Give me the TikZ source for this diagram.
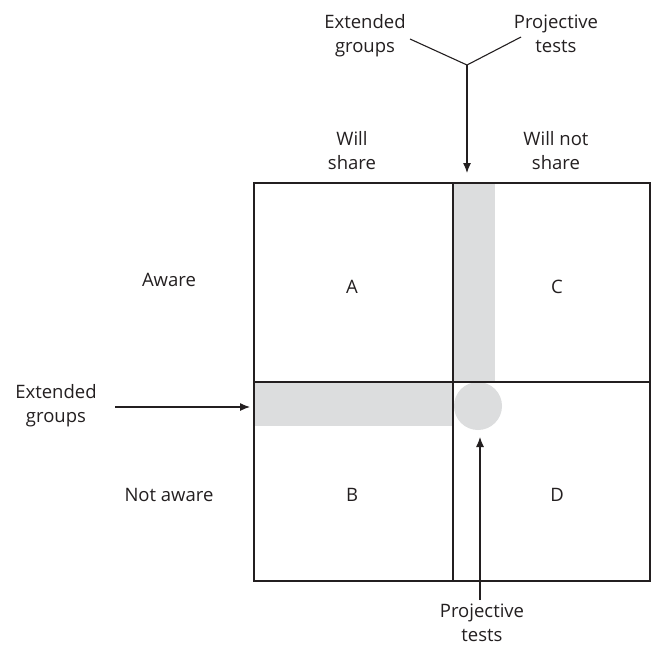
\documentclass[tikz,border=0pt]{standalone}
\usepackage{fontspec}
\setmainfont{Open Sans}
\usetikzlibrary{arrows.meta}
\definecolor{stripgray}{HTML}{DCDDDE}
\definecolor{ink}{HTML}{231F20}

\begin{document}
\begin{tikzpicture}[
    x=1pt, y=-1pt,
    label/.style = {align=center, text=ink, inner sep=0pt,
                    font=\fontsize{18.5}{24}\selectfont},
    strip/.style = {fill=stripgray, draw=none, inner sep=0pt, outer sep=0pt},
    grid/.style = {draw=ink, line width=1.4pt},
    link/.style = {draw=ink, line width=1.1pt},
    arrow/.style = {-{Latex[length=10pt, width=8pt]}, draw=ink, fill=ink, line width=1.1pt}
]
\useasboundingbox (0,0) rectangle (652,649);

\node[strip, minimum width=42pt, minimum height=199pt, anchor=north west] (vbar) at (453,183) {};
\node[strip, minimum width=199pt, minimum height=44pt, anchor=north west] (hbar) at (254,382) {};
\node[strip, circle, minimum size=48pt] (blob) at (478,406) {};

\draw[grid] (254,183) rectangle (650,581);
\draw[grid] (453,183) -- (453,581);
\draw[grid] (254,382) -- (650,382);

\node[label] (share) at (352,151) {Will\\share};
\node[label] (noshare) at (556,151) {Will not\\share};
\node[label] (aware) at (169,280) {Aware};
\node[label] (notaware) at (169,495) {Not aware};
\node[label] (cella) at (352,287) {A};
\node[label] (cellc) at (557,287) {C};
\node[label] (cellb) at (352,495) {B};
\node[label] (celld) at (557,495) {D};

\node[label] (egtop) at (365,36) {Extended\\groups};
\node[label] (pttop) at (556,34) {Projective\\tests};
\node[label] (egleft) at (56,406) {Extended\\groups};
\node[label] (ptbot) at (482,623) {Projective\\tests};

\coordinate (fork) at (467,65);
\coordinate (vleft) at (410,39);
\coordinate (vright) at (521,37);
\coordinate (egarrow) at (115,407);
\coordinate (ptarrow) at (480,600);

\draw[link] (vleft) -- (fork) -- (vright);
\draw[arrow, shorten >=10pt] (fork) -- (fork |- vbar.north);
\draw[arrow, shorten >=4pt] (egarrow) -- (egarrow -| hbar.west);
\draw[arrow, shorten >=7pt] (ptarrow) -- (ptarrow |- blob.south);

\end{tikzpicture}
\end{document}
